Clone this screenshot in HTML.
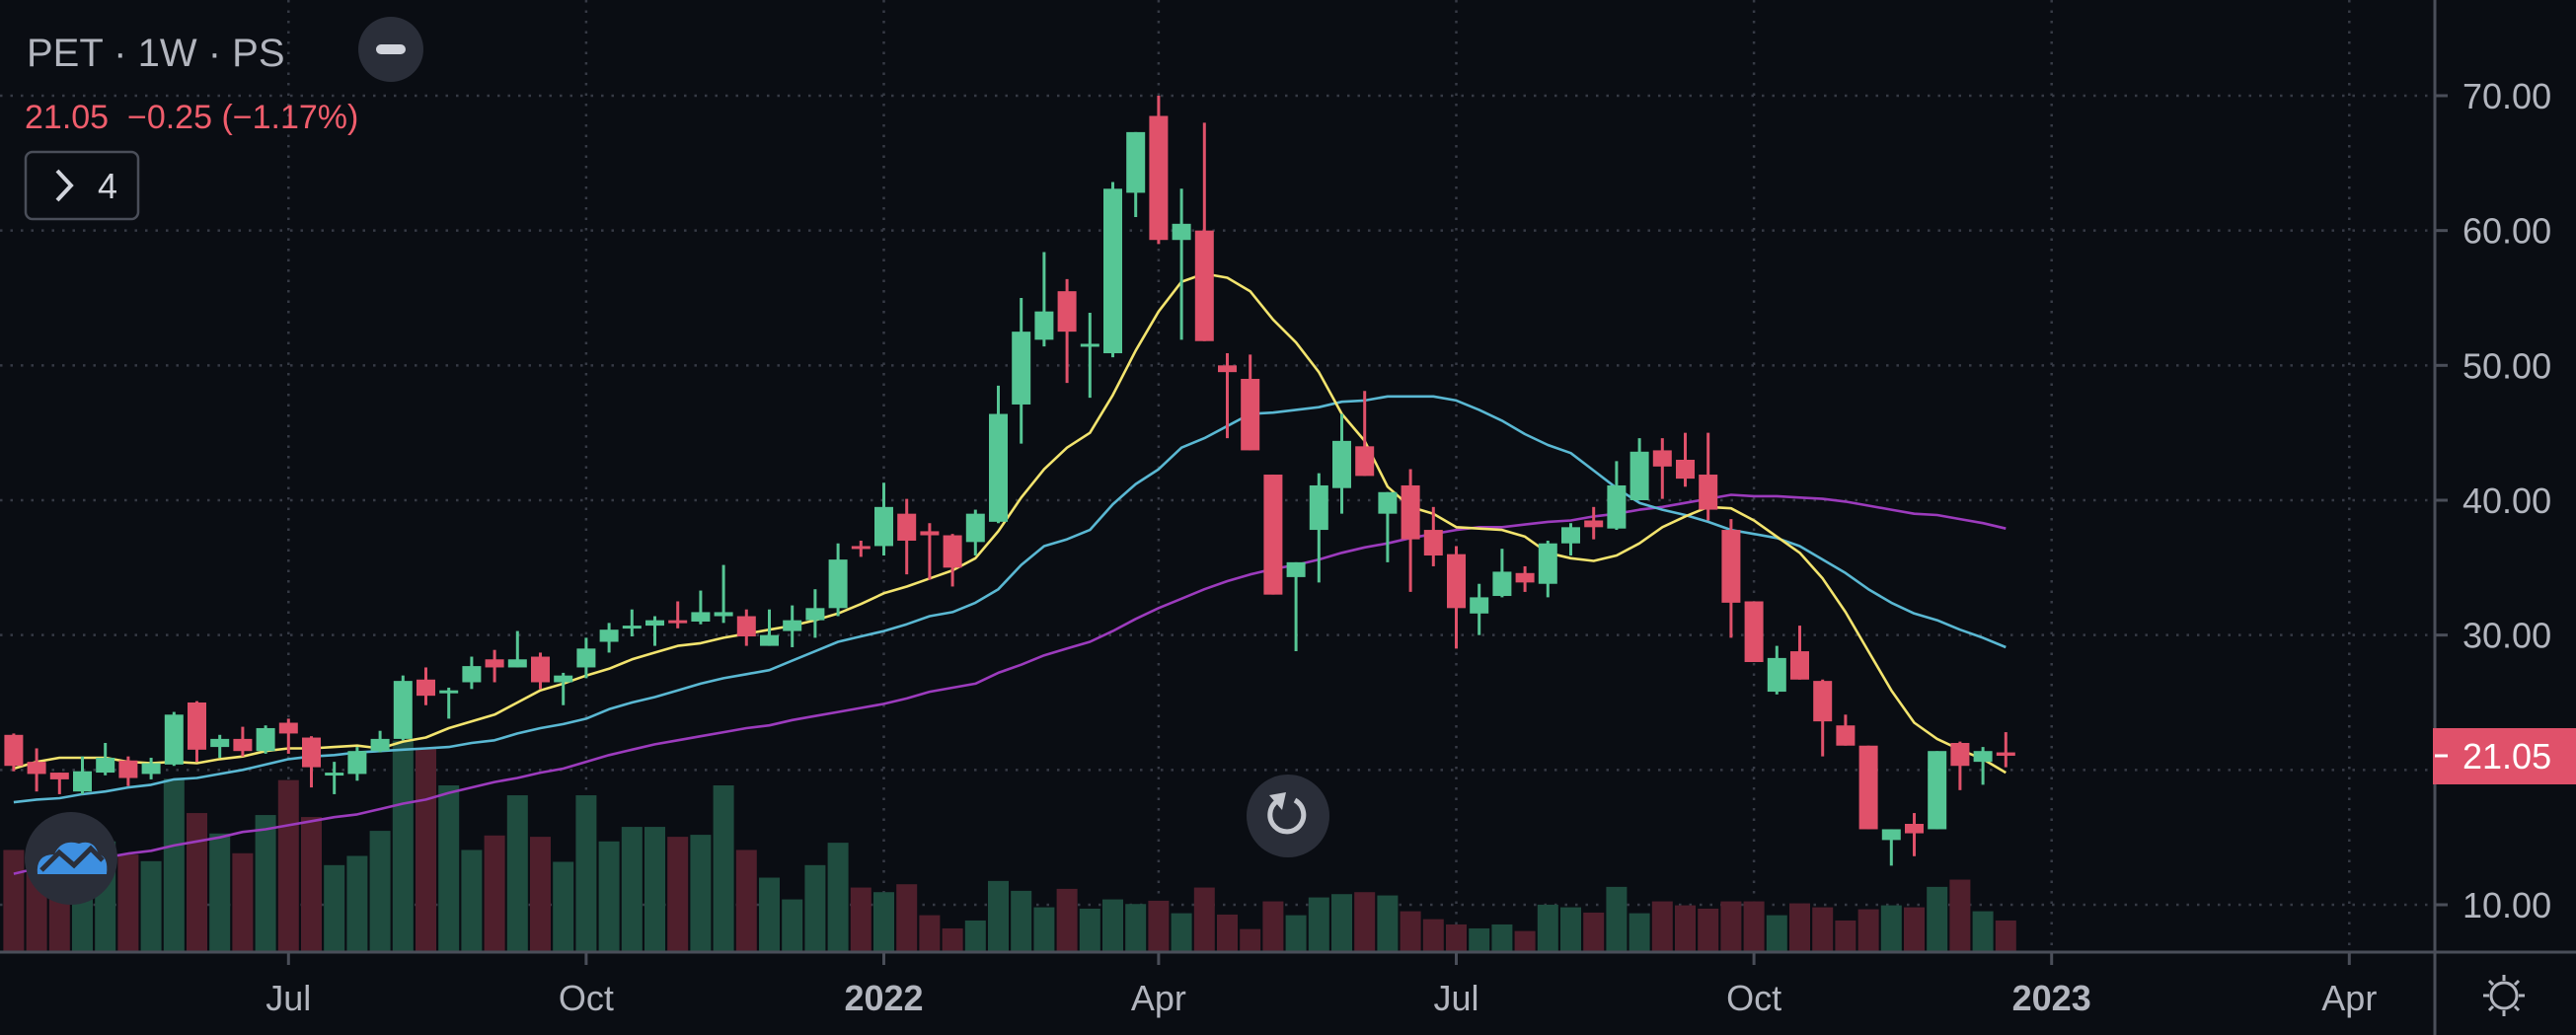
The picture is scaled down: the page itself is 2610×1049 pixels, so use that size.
<!DOCTYPE html>
<html><head><meta charset="utf-8">
<style>
html,body{margin:0;padding:0;background:#0a0d13;width:2610px;height:1049px;overflow:hidden;font-family:"Liberation Sans","DejaVu Sans",sans-serif;}
svg{display:block;}
</style></head>
<body>
<svg id="chart" width="2610" height="1049" viewBox="0 0 2610 1049" xmlns="http://www.w3.org/2000/svg">
<rect x="0" y="0" width="2610" height="1049" fill="#0a0d13"/>
<g id="grid"></g>
<g id="vol"></g>
<g id="mas"></g>
<g id="candles"></g>
<g id="axes"></g>
<text x="27" y="67" font-size="40" fill="#b2b5be">PET · 1W · PS</text>
<circle cx="396" cy="50" r="33" fill="#2a2e39"/>
<rect x="381" y="45" width="30" height="10" rx="5" fill="#d1d4dc"/>
<text x="25" y="130" font-size="34" fill="#f05d6c">21.05&#160;&#160;−0.25&#160;(−1.17%)</text>
<rect x="26" y="154" width="114" height="68" rx="7" fill="none" stroke="#4a4e59" stroke-width="2.5"/>
<path d="M58 173 L72 188 L58 203" fill="none" stroke="#d1d4dc" stroke-width="4"/>
<text x="99" y="201" font-size="36" fill="#d1d4dc">4</text>
<circle cx="72" cy="870" r="47" fill="#2a2e39"/>
<path d="M38 886 Q36 866 55 866 Q62 850 80 855 Q95 850 100 866 Q110 868 108 886 Z" fill="#3d8fe0"/>
<path d="M42 882 L60 864 L75 877 L92 860 L104 872" fill="none" stroke="#2a2e39" stroke-width="5"/>
<circle cx="1305" cy="827" r="42" fill="#2a2e39"/>
<path d="M1294 812 A17 17 0 1 0 1312 811" fill="none" stroke="#c4c7ce" stroke-width="5"/>
<path d="M1286 806 L1299 821 L1303 803 Z" fill="#c4c7ce"/>
<g>
<circle cx="2537" cy="1009" r="13" fill="none" stroke="#b2b5be" stroke-width="3"/>
<path d="M2537 988 V994 M2537 1024 V1030 M2516 1009 H2522 M2552 1009 H2558 M2522 994 L2526 998 M2548 1020 L2552 1024 M2552 994 L2548 998 M2526 1020 L2522 1024" stroke="#b2b5be" stroke-width="3"/>
</g>
</svg>
<script>
// ---- data ----
const opens  = [22.6,20.6,19.8,18.4,19.8,20.7,19.7,20.4,25.0,21.7,22.3,21.4,23.5,22.4,19.6,19.7,21.4,22.3,26.7,25.8,26.5,28.2,27.6,28.4,26.5,27.6,29.5,30.5,30.7,31.1,31.0,31.4,31.4,29.2,30.3,31.1,32.0,36.6,36.6,39.0,37.7,37.4,36.9,38.4,47.1,51.9,55.5,51.4,50.9,62.8,68.5,59.3,60.0,50.0,49.0,41.9,34.3,37.8,40.9,44.0,39.0,41.1,37.8,36.0,31.6,32.9,34.6,33.8,36.8,38.5,37.9,40.0,43.7,43.0,41.9,37.8,32.5,25.8,28.8,26.6,23.3,21.8,14.8,16.0,15.6,22.0,20.6,21.3];
const highs  = [22.7,21.6,19.8,21.0,22.0,21.0,20.9,24.3,25.1,22.6,23.2,23.3,23.8,22.5,20.6,21.7,22.9,27.0,27.6,26.1,28.4,28.9,30.3,28.7,27.2,29.8,30.9,31.9,31.4,32.5,33.3,35.2,31.9,31.9,32.2,33.4,36.8,37.0,41.3,40.1,38.3,37.5,39.3,48.5,55.0,58.4,56.4,53.9,63.6,67.3,70.0,63.1,68.0,50.9,50.8,41.9,35.4,42.0,46.4,48.1,40.6,42.3,39.5,36.6,33.8,36.4,35.1,37.0,38.3,39.5,42.9,44.6,44.6,45.0,45.0,38.6,32.5,29.2,30.7,26.7,24.1,21.8,15.6,16.8,21.4,22.1,21.7,22.8];
const lows   = [19.9,18.4,18.2,18.2,19.6,18.8,19.3,20.3,20.6,20.9,21.0,21.2,21.2,18.7,18.2,19.2,21.3,22.2,24.8,23.8,26.0,26.5,27.6,26.0,24.8,26.8,28.7,29.9,29.2,30.5,30.8,30.9,29.2,29.2,29.1,29.8,31.4,35.8,35.9,34.5,34.1,33.6,35.9,38.3,44.2,51.4,48.7,47.6,50.6,61.0,59.0,51.9,51.8,44.6,43.7,33.0,28.8,33.9,39.0,41.8,35.4,33.2,35.1,29.0,30.0,32.8,33.2,32.8,35.9,37.1,37.8,40.0,40.1,41.0,38.5,29.8,28.0,25.6,26.7,21.0,21.8,15.6,12.9,13.6,15.6,18.5,18.9,20.2];
const closes = [20.3,19.7,19.3,19.9,20.9,19.4,20.5,24.1,21.5,22.3,21.4,23.1,22.7,20.2,19.8,21.4,22.3,26.6,25.5,25.9,27.7,27.6,28.2,26.5,27.0,29.0,30.4,30.7,31.1,31.0,31.7,31.7,29.9,30.0,31.1,32.0,35.6,36.4,39.5,37.0,37.4,35.0,39.0,46.4,52.5,54.0,52.5,51.6,63.1,67.3,59.3,60.5,51.8,49.5,43.7,33.0,35.4,41.1,44.4,41.8,40.6,37.1,35.9,32.0,32.8,34.7,33.9,36.8,38.0,38.0,41.1,43.6,42.5,41.6,39.3,32.4,28.0,28.3,26.7,23.6,21.8,15.6,15.6,15.3,21.4,20.3,21.4,21.05];
const volumes = [15.5,14.5,11.0,15.0,16.8,14.8,13.8,26.3,21.1,18.0,15.0,20.8,26.1,20.5,13.2,14.6,18.4,32.1,31.0,25.3,15.5,17.7,23.8,17.5,13.7,23.8,16.8,19.0,19.0,17.5,17.8,25.3,15.5,11.3,8.0,13.2,16.6,9.8,9.1,10.3,5.6,3.6,4.8,10.8,9.3,6.8,9.6,6.6,8.0,7.3,7.8,5.9,9.8,5.7,3.5,7.7,5.6,8.3,8.8,9.1,8.6,6.2,5.0,4.2,3.6,4.2,3.2,7.2,6.8,6.0,9.9,5.9,7.7,7.1,6.6,7.7,7.7,5.6,7.4,6.8,4.8,6.5,7.1,6.8,9.9,11.0,6.2,4.8];
const maFast = [20.1,20.6,20.9,20.9,20.9,20.6,20.5,20.6,20.5,20.8,21.0,21.4,21.6,21.6,21.7,21.8,21.6,22.1,22.4,23.1,23.6,24.1,25.0,25.9,26.4,27.0,27.5,28.2,28.7,29.2,29.4,29.8,30.1,30.4,30.7,31.1,31.6,32.3,33.1,33.6,34.2,34.8,35.7,37.7,40.2,42.3,43.9,45.0,47.8,51.1,54.0,56.2,56.8,56.5,55.5,53.4,51.7,49.5,46.4,44.4,41.0,39.5,39.0,38.0,37.9,37.8,37.3,36.1,35.7,35.5,35.9,36.8,38.0,38.8,39.5,39.4,38.5,37.3,36.1,34.2,31.7,28.8,25.9,23.5,22.3,21.5,20.8,19.8];
const maMid = [17.6,17.8,17.9,18.2,18.4,18.7,18.9,19.3,19.4,19.7,20.0,20.4,20.8,21.0,21.1,21.3,21.4,21.5,21.6,21.7,22.0,22.2,22.7,23.1,23.4,23.8,24.5,25.0,25.4,25.9,26.4,26.8,27.1,27.4,28.1,28.8,29.5,29.9,30.3,30.8,31.4,31.7,32.4,33.4,35.2,36.6,37.1,37.8,39.7,41.2,42.3,43.9,44.6,45.5,46.4,46.5,46.7,46.9,47.3,47.4,47.7,47.7,47.7,47.4,46.7,45.9,44.9,44.1,43.5,42.2,40.9,39.8,39.3,38.9,38.4,37.8,37.5,37.2,36.6,35.6,34.6,33.4,32.4,31.6,31.1,30.4,29.8,29.1];
const maSlow = [12.3,12.7,13.0,13.3,13.5,13.8,14.0,14.4,14.7,15.0,15.4,15.6,15.9,16.2,16.5,16.7,17.1,17.5,17.8,18.3,18.7,19.1,19.4,19.8,20.1,20.6,21.1,21.5,21.9,22.2,22.5,22.8,23.1,23.3,23.7,24.0,24.3,24.6,24.9,25.3,25.8,26.1,26.4,27.2,27.8,28.5,29.0,29.5,30.3,31.2,32.0,32.7,33.4,34.0,34.5,34.9,35.2,35.6,36.1,36.5,36.8,37.2,37.5,37.8,38.0,38.0,38.2,38.4,38.5,38.8,39.0,39.3,39.5,39.8,40.1,40.4,40.3,40.3,40.2,40.1,39.9,39.6,39.3,39.0,38.9,38.6,38.3,37.9];
const priceTicks = [10,20,30,40,50,60,70];
const priceTickLabels = ["10.00","20.00","30.00","40.00","50.00","60.00","70.00"];
const timeTickIndex = [12,25,38,50,63,76,89,102];
const timeTickLabels = ["Jul","Oct","2022","Apr","Jul","Oct","2023","Apr"];
const timeTickBold = [false,false,true,false,false,false,true,false];
const lastPrice = 21.05;

// ---- scales ----
const X0 = 13.9, DX = 23.2;
function xs(i){ return X0 + DX*i; }
function ys(v){ return 917 - (v-10)*13.667; }
const VOL_BASE = 965, VOL_PX = 6.68;
function yv(v){ return VOL_BASE - v*VOL_PX; }
const AXIS_X = 2467;
const NS = "http://www.w3.org/2000/svg";
function mk(tag, attrs, parent){
  const e = document.createElementNS(NS, tag);
  for (const k in attrs) e.setAttribute(k, attrs[k]);
  parent.appendChild(e);
  return e;
}
const grid = document.getElementById('grid');
const vol = document.getElementById('vol');
const mas = document.getElementById('mas');
const cg = document.getElementById('candles');
const axes = document.getElementById('axes');

priceTicks.forEach((p,k)=>{
  const l = mk('line',{x1:0,x2:AXIS_X,y1:ys(p),y2:ys(p),stroke:'#363a45','stroke-width':2.5,'stroke-dasharray':'2.5 8'},grid);
  
  
});
timeTickIndex.forEach((t,k)=>{
  const l = mk('line',{x1:xs(t),x2:xs(t),y1:0,y2:VOL_BASE,stroke:'#363a45','stroke-width':2.5,'stroke-dasharray':'2.5 8'},grid);
  
  
});

volumes.forEach((v,i)=>{
  const up = closes[i] >= opens[i];
  const r = mk('rect',{x:xs(i)-10.5,y:yv(v),width:21,height:v*VOL_PX,fill:up?'#1f4c3f':'#4f1f2c'},vol);
  
  
});

function line(arr,color,name){
  const d = arr.map((v,i)=>(i?'L':'M')+xs(i).toFixed(1)+' '+ys(v).toFixed(1)).join(' ');
  const p = mk('path',{d:d,fill:'none',stroke:color,'stroke-width':2.6,'stroke-linejoin':'round'},mas);
  
  
}
line(maSlow,'#9c3bbd','ma-slow-line');
line(maMid,'#5ab8d3','ma-mid-line');
line(maFast,'#f3e46e','ma-fast-line');

opens.forEach((o,i)=>{
  const c = closes[i], up = c >= o;
  const col = up ? '#56c695' : '#e0516a';
  const w = mk('line',{x1:xs(i),x2:xs(i),y1:ys(highs[i]),y2:ys(lows[i]),stroke:col,'stroke-width':3},cg);
  
  
  const top = ys(Math.max(o,c)), bot = ys(Math.min(o,c));
  const b = mk('rect',{x:xs(i)-9.5,y:top,width:19,height:Math.max(3,bot-top),fill:col},cg);
  
  
});

const ax1 = mk('line',{x1:AXIS_X,x2:AXIS_X,y1:0,y2:1049,stroke:'#4a4e59','stroke-width':3},axes);


const ax2 = mk('line',{x1:0,x2:2610,y1:VOL_BASE,y2:VOL_BASE,stroke:'#4a4e59','stroke-width':3},axes);


priceTicks.forEach((p,k)=>{
  const t = mk('line',{x1:AXIS_X,x2:AXIS_X+13,y1:ys(p),y2:ys(p),stroke:'#4a4e59','stroke-width':3},axes);
  
  
  const tx = mk('text',{x:2495,y:ys(p)+13,'font-size':36,fill:'#b2b5be'},axes);
  tx.textContent = priceTickLabels[k];
  
  
});
timeTickIndex.forEach((t,k)=>{
  const tk = mk('line',{x1:xs(t),x2:xs(t),y1:VOL_BASE,y2:VOL_BASE+13,stroke:'#4a4e59','stroke-width':3},axes);
  
  
  const tx = mk('text',{x:xs(t),y:1024,'font-size':36,fill:'#b2b5be','text-anchor':'middle','font-weight':timeTickBold[k]?'bold':'normal'},axes);
  tx.textContent = timeTickLabels[k];
  
  
});
const ly = ys(lastPrice);
const lb = mk('rect',{x:AXIS_X-2,y:ly-28,width:2610-AXIS_X+2,height:57,fill:'#e0516a'},axes);


const lt = mk('line',{x1:AXIS_X,x2:AXIS_X+13,y1:ly,y2:ly,stroke:'#ffffff','stroke-width':3},axes);


const ltx = mk('text',{x:2495,y:ly+13,'font-size':36,fill:'#ffffff'},axes);
ltx.textContent = lastPrice.toFixed(2);


</script>
</body></html>
